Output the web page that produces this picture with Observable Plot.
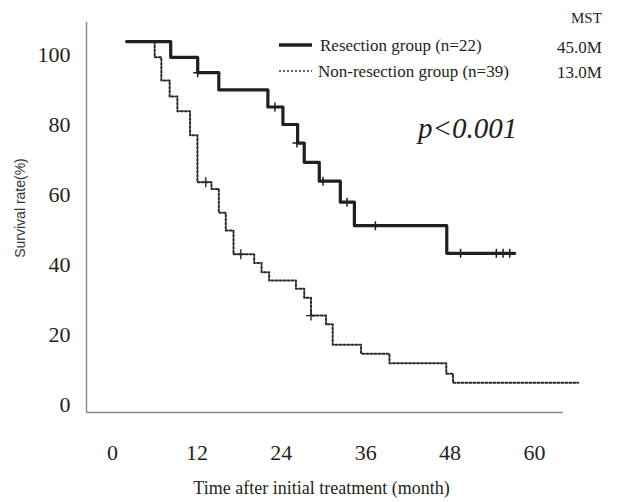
<!DOCTYPE html>
<html><head><meta charset="utf-8">
<script src="https://cdn.jsdelivr.net/npm/d3@7"></script>
<script src="https://cdn.jsdelivr.net/npm/@observablehq/plot@0.6"></script>
<style>
body{margin:0;background:#fff;}
#wrap{position:relative;width:619px;height:502px;overflow:hidden;}
#wrap svg{position:absolute;left:0;top:0;}
</style></head><body>
<div id="wrap"></div>
<script>
// ---- data ----
const groups = ["Resection group (n=22)", "Non-resection group (n=39)"];
const mstHeader = "MST";
const mstValues = ["45.0M", "13.0M"];
const pText = "p<0.001";
const xTitle = "Time after initial treatment (month)";
const yTitle = "Survival rate(%)";
const xTicks = [0, 12, 24, 36, 48, 60];
const yTicks = [0, 20, 40, 60, 80, 100];

// Resection group: step times (month) and survival (%) after each step
const resTime = [2.0, 8.27, 12.11, 15.11, 22.09, 24.23, 26.32, 27.26, 29.40, 32.39, 34.39, 47.53, 57.19];
const resSurv = [103.7, 99.2, 94.8, 89.9, 85.0, 80.0, 74.7, 69.2, 63.8, 57.8, 51.1, 43.2, 43.2];
const resCensTime = [12.11, 23.09, 26.22, 29.93, 33.35, 37.38, 49.49, 54.58, 55.54, 56.48];
const resCensSurv = [94.8, 85.0, 74.7, 63.8, 57.8, 51.1, 43.2, 43.2, 43.2, 43.2];

// Non-resection group
const nonTime = [2.0, 5.99, 6.94, 8.12, 9.22, 11.02, 12.07, 14.07, 15.11, 16.10, 17.20, 20.14, 21.19, 22.27, 26.08, 27.26, 28.22, 30.35, 31.31, 35.34, 39.38, 47.46, 48.41, 66.22];
const nonSurv = [103.7, 99.2, 92.6, 88.0, 83.8, 76.9, 63.5, 61.6, 54.8, 49.7, 42.9, 40.4, 37.8, 35.4, 33.1, 30.5, 25.4, 22.9, 17.1, 14.5, 11.8, 8.8, 6.2, 6.2];
const nonCensTime = [13.25, 18.24, 28.22];
const nonCensSurv = [63.5, 42.9, 25.4];

// ---- build ----
const res = resTime.map((t, i) => ({t, s: resSurv[i]}));
const non = nonTime.map((t, i) => ({t, s: nonSurv[i]}));
const resC = resCensTime.map((t, i) => ({t, s: resCensSurv[i]}));
const nonC = nonCensTime.map((t, i) => ({t, s: nonCensSurv[i]}));

const xDomain = [-3.705, 64.13];
const yDomain = [-2.29, 109.14];
const ink = "#231f20";
const axisGray = "#8a8a8a";
const dotDash = "2,2";

const plusSym = {draw(ctx, size) { const r = Math.sqrt(size / Math.PI); ctx.moveTo(0, -r); ctx.lineTo(0, r); ctx.moveTo(-r, 0); ctx.lineTo(r, 0); }};

const chart = Plot.plot({
  width: 619, height: 502,
  marginLeft: 86, marginRight: 56, marginTop: 22, marginBottom: 90,
  x: {domain: xDomain},
  y: {domain: yDomain},
  style: {fontFamily: "'Liberation Serif', serif", fontSize: "22px", color: ink, background: "transparent"},
  marks: [
    Plot.ruleX([xDomain[0]], {y1: yDomain[0], y2: yDomain[1], stroke: axisGray, strokeWidth: 1.5}),
    Plot.ruleY([yDomain[0]], {x1: xDomain[0], x2: xDomain[1], stroke: axisGray, strokeWidth: 1.5}),
    Plot.axisX({ticks: xTicks, tickSize: 0, tickPadding: 32, label: null, tickFormat: d => d, fontSize: 22}),
    Plot.axisY({ticks: yTicks, tickSize: 0, tickPadding: 16, label: null, tickFormat: d => d, fontSize: 22}),
    Plot.line(non, {x: "t", y: "s", curve: "step-after", stroke: "#2a2a2a", strokeWidth: 2, strokeDasharray: dotDash}),
    Plot.dot(nonC, {x: "t", y: "s", symbol: plusSym, r: 5, fill: "none", stroke: "#2a2a2a", strokeWidth: 1.4}),
    Plot.line(res, {x: "t", y: "s", curve: "step-after", stroke: ink, strokeWidth: 3.2}),
    Plot.dot(resC, {x: "t", y: "s", symbol: plusSym, r: 4.5, fill: "none", stroke: ink, strokeWidth: 1.5}),
    Plot.text([xTitle], {text: d => d, frameAnchor: "bottom", dx: -3.5, dy: 81, fontSize: 18, fill: ink})
  ]
});
const wrap = document.getElementById("wrap");
wrap.appendChild(chart);

// ---- legend / annotations overlay ----
const ov = d3.select(wrap).append("svg").attr("width", 619).attr("height", 502)
  .style("font-family", "'Liberation Serif', serif").attr("fill", ink);
ov.append("text").attr("transform", "translate(20,208) rotate(-90)").attr("text-anchor", "middle")
  .attr("dy", "0.35em").attr("font-size", 14).attr("fill", "#333")
  .style("font-family", "'Liberation Sans', Arial, sans-serif").text(yTitle);
const legendStyles = [{dash: null, w: 3.6, c: ink}, {dash: dotDash, w: 1.6, c: "#333"}];
const legendY = [45, 71];
const legendTextX = [320, 318];
const mstY = [47, 72];
groups.forEach((g, i) => {
  ov.append("line").attr("x1", 279).attr("x2", 312).attr("y1", legendY[i]).attr("y2", legendY[i])
    .attr("stroke", legendStyles[i].c).attr("stroke-width", legendStyles[i].w)
    .attr("stroke-dasharray", legendStyles[i].dash);
  ov.append("text").attr("x", legendTextX[i]).attr("y", legendY[i]).attr("dy", "0.35em")
    .attr("font-size", 17).text(g);
  ov.append("text").attr("x", 557).attr("y", mstY[i]).attr("dy", "0.35em")
    .attr("font-size", 17).text(mstValues[i]);
});
ov.append("text").attr("x", 571).attr("y", 18).attr("dy", "0.35em").attr("font-size", 15).text(mstHeader);
ov.append("text").attr("x", 418).attr("y", 128).attr("dy", "0.35em").attr("font-size", 29)
  .attr("font-style", "italic").text(pText);
</script>
</body></html>
